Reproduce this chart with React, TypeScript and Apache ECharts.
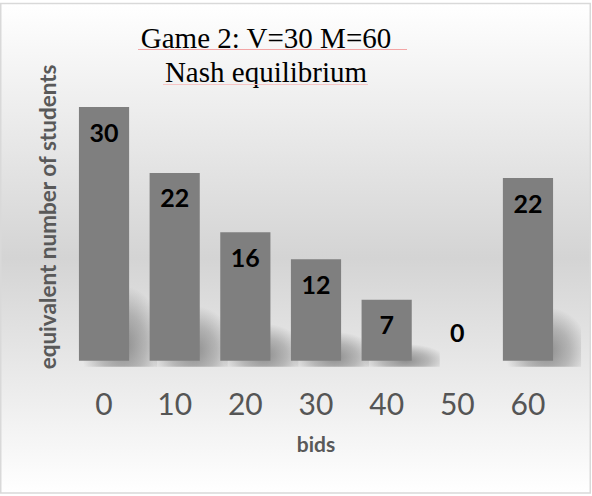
import React, { useEffect, useRef } from "react";
import * as echarts from "echarts";

const bids = ["0", "10", "20", "30", "40", "50", "60"];
const students = [30, 22.2, 15.2, 12, 7.2, 0, 21.6];
const studentLabels = ["30", "22", "16", "12", "7", "0", "22"];
const titleLines = ["Game 2: V=30 M=60", "Nash equilibrium"];
const xName = "bids";
const yName = "equivalent number of students";

export default function App() {
  const ref = useRef<HTMLDivElement>(null);

  useEffect(() => {
    document.body.style.margin = "0";
    const chart = echarts.init(ref.current!, null, { renderer: "svg" });
    const sans = "Lato, 'Open Sans', sans-serif";

    const barData = students.map((v) => ({
      value: v,
      label:
        v === 0
          ? { position: "top", distance: 16 }
          : { position: "insideTop", distance: 12 },
    }));

    chart.setOption({
      animation: false,
      backgroundColor: "#ffffff",
      title: {
        text: titleLines.join("\n"),
        left: 266,
        top: 21,
        padding: 0,
        textAlign: "center",
        textStyle: {
          fontFamily: "'Liberation Serif', 'Times New Roman', serif",
          fontSize: 29,
          fontWeight: "normal",
          color: "#000000",
          lineHeight: 34,
        },
      },
      graphic: [
        {
          type: "rect",
          z: -10,
          shape: { x: 0.75, y: 3.5, width: 589.5, height: 489.5 },
          style: {
            fill: new echarts.graphic.LinearGradient(0, 0, 0, 1, [
              { offset: 0, color: "#ffffff" },
              { offset: 0.52, color: "#d4d4d4" },
              { offset: 1, color: "#ffffff" },
            ]),
            stroke: "#d9d9d9",
            lineWidth: 1.5,
          },
        },
        {
          type: "line",
          z: 10,
          shape: { x1: 138, y1: 49.5, x2: 407, y2: 49.5 },
          style: { stroke: "#f3a5a5", lineWidth: 1 },
        },
        {
          type: "line",
          z: 10,
          shape: { x1: 163, y1: 84.5, x2: 368, y2: 84.5 },
          style: { stroke: "#f6c4c4", lineWidth: 1 },
        },
      ],
      grid: { left: 68.7, right: 28.7, top: 73.2, bottom: 135.3 },
      xAxis: {
        type: "category",
        data: bids,
        name: xName,
        nameLocation: "middle",
        nameGap: 72,
        nameTextStyle: {
          fontFamily: sans,
          fontSize: 21,
          fontWeight: "bold",
          color: "#595959",
        },
        axisLine: { show: false },
        axisTick: { show: false },
        axisLabel: {
          margin: 27,
          fontFamily: sans,
          fontSize: 30,
          color: "#555555",
        },
        splitLine: { show: false },
      },
      yAxis: {
        type: "value",
        min: 0,
        max: 34,
        name: yName,
        nameLocation: "middle",
        nameGap: 10,
        nameTextStyle: {
          fontFamily: sans,
          fontSize: 22.5,
          fontWeight: "bold",
          color: "#595959",
        },
        axisLine: { show: false },
        axisTick: { show: false },
        axisLabel: { show: false },
        splitLine: { show: false },
      },
      series: [
        {
          type: "custom",
          z: 1,
          silent: true,
          data: students.map((v, i) => [i, v]),
          encode: { x: 0, y: 1 },
          renderItem: (params: any, api: any) => {
            const i = api.value(0);
            const v = api.value(1);
            const bottom = api.coord([i, 0]);
            const top = api.coord([i, v]);
            const bw = api.size([1, 0])[0] * 0.71;
            const H = bottom[1] - top[1];
            const h = H * 0.32;
            if (h < 1) return null;
            return {
              type: "rect",
              shape: {
                x: bottom[0] - bw / 2 + 2,
                y: bottom[1] - h * 1.25,
                width: bw + 26,
                height: h * 1.25 + 6,
              },
              style: {
                fill: new echarts.graphic.RadialGradient(0.55, 0.8, 0.55, [
                  { offset: 0, color: "rgba(70,70,70,0.55)" },
                  { offset: 0.55, color: "rgba(70,70,70,0.3)" },
                  { offset: 1, color: "rgba(70,70,70,0)" },
                ]),
              },
            };
          },
        },
        {
          type: "bar",
          z: 2,
          data: barData,
          barCategoryGap: "29%",
          itemStyle: { color: "#7f7f7f" },
          label: {
            show: true,
            fontFamily: sans,
            fontSize: 25,
            fontWeight: "bold",
            color: "#000000",
            formatter: (p: any) => studentLabels[p.dataIndex],
          },
        },
      ],
    });
    return () => chart.dispose();
  }, []);

  return <div ref={ref} style={{ width: 592, height: 496 }} />;
}
